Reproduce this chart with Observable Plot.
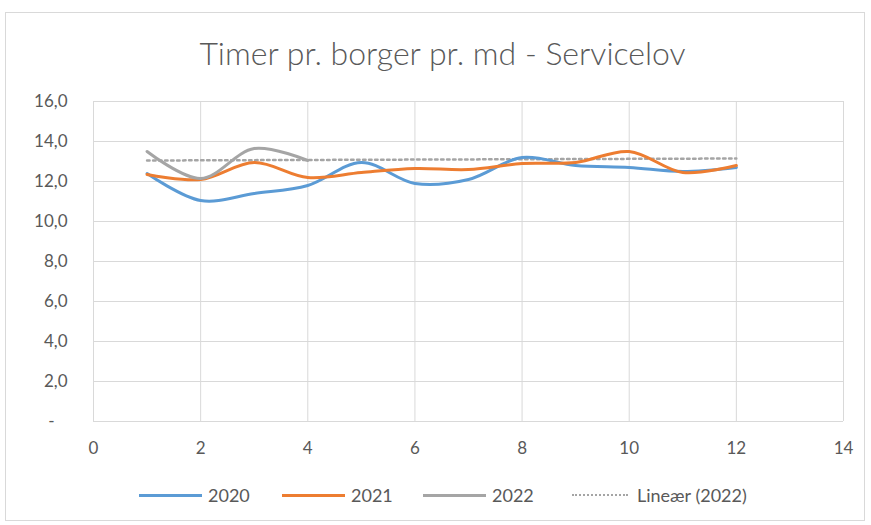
<!DOCTYPE html>
<html>
<head>
<meta charset="utf-8">
<script src="https://cdn.jsdelivr.net/npm/d3@7"></script>
<script src="https://cdn.jsdelivr.net/npm/@observablehq/plot@0.6"></script>
<style>
  html, body { margin: 0; padding: 0; background: #fff; }
  #wrap { position: relative; width: 871px; height: 525px; font-family: Lato, "Open Sans", sans-serif; color: #595959; }
  #frame { position: absolute; left: 5px; top: 12px; width: 860px; height: 509px; border: 1px solid #d9d9d9; box-sizing: border-box; }
  #title { position: absolute; left: 0; width: 885px; top: 37px; line-height: 32px; text-align: center; font-size: 32px; font-weight: 300; color: #595959; }
  #chart { position: absolute; left: 0; top: 80px; }
  #legend { position: absolute; top: 483px; left: 0; width: 871px; height: 24px; }
  .item { position: absolute; top: 0; display: flex; align-items: center; height: 24px; font-size: 18px; color: #595959; white-space: nowrap; }
  .sw { display: inline-block; width: 63px; height: 0; margin-right: 6px; }
</style>
</head>
<body>
<div id="wrap">
  <div id="frame"></div>
  <div id="title">Timer pr. borger pr. md - Servicelov</div>
  <div id="chart"></div>
  <div id="legend"></div>
</div>
<script>
const months = [1, 2, 3, 4, 5, 6, 7, 8, 9, 10, 11, 12];
const v2020 = [12.4, 11.05, 11.4, 11.8, 12.95, 11.9, 12.1, 13.2, 12.8, 12.7, 12.5, 12.7];
const v2021 = [12.35, 12.1, 12.95, 12.2, 12.45, 12.65, 12.6, 12.9, 12.95, 13.5, 12.45, 12.8];
const months2022 = [1, 2, 3, 4];
const v2022 = [13.5, 12.15, 13.65, 13.05];
const trendX = [1, 12];
const trendY = [13.05, 13.15];
const seriesNames = ["2020", "2021", "2022"];
const seriesColors = ["#5B9BD5", "#ED7D31", "#A5A5A5"];
const yTicks = [0, 2, 4, 6, 8, 10, 12, 14, 16];
const xTicks = [0, 2, 4, 6, 8, 10, 12, 14];
const trendLabel = "Lineær (2022)";

const rows = [
  ...months.map((m, i) => ({series: "2020", x: m, y: v2020[i]})),
  ...months.map((m, i) => ({series: "2021", x: m, y: v2021[i]})),
  ...months2022.map((m, i) => ({series: "2022", x: m, y: v2022[i]}))
];
const trend = trendX.map((x, i) => ({x, y: trendY[i]}));
const yFmt = d => d === 0 ? "-   " : d.toFixed(1).replace(".", ",");

const plot = Plot.plot({
  width: 871,
  height: 390,
  marginLeft: 93,
  marginRight: 28,
  marginTop: 21,
  marginBottom: 49,
  style: {fontFamily: "Lato, 'Open Sans', sans-serif", fontSize: "17px", color: "#595959", background: "transparent"},
  x: {domain: [0, 14], ticks: xTicks, tickSize: 0, label: null},
  y: {domain: [0, 16], ticks: yTicks, tickSize: 0, label: null},
  color: {domain: seriesNames, range: seriesColors},
  marks: [
    Plot.gridY(yTicks, {stroke: "#d9d9d9", strokeOpacity: 1}),
    Plot.gridX(xTicks, {stroke: "#d9d9d9", strokeOpacity: 1}),
    Plot.axisX({ticks: xTicks, tickSize: 0, tickPadding: 20, fill: "#595959", fontSize: 17}),
    Plot.axisY({ticks: yTicks, tickSize: 0, tickPadding: 26, tickFormat: yFmt, fill: "#595959", fontSize: 17}),
    Plot.line(trend, {x: "x", y: "y", stroke: "#A5A5A5", strokeWidth: 2.5, strokeDasharray: "2.5,3.5"}),
    Plot.line(rows, {x: "x", y: "y", z: "series", stroke: "series", strokeWidth: 3, curve: "catmull-rom"})
  ]
});
document.getElementById("chart").appendChild(plot);

const legend = document.getElementById("legend");
const lefts = [139, 282, 423, 572];
seriesNames.forEach((s, i) => {
  const it = document.createElement("div");
  it.className = "item";
  it.style.left = lefts[i] + "px";
  it.innerHTML = `<span class="sw" style="border-top:3px solid ${seriesColors[i]}"></span>${s}`;
  legend.appendChild(it);
});
const t = document.createElement("div");
t.className = "item";
t.style.left = lefts[3] + "px";
t.innerHTML = `<span class="sw" style="width:56px;margin-right:9px;border-top:2.5px dotted #A5A5A5"></span>${trendLabel}`;
legend.appendChild(t);
</script>
</body>
</html>
